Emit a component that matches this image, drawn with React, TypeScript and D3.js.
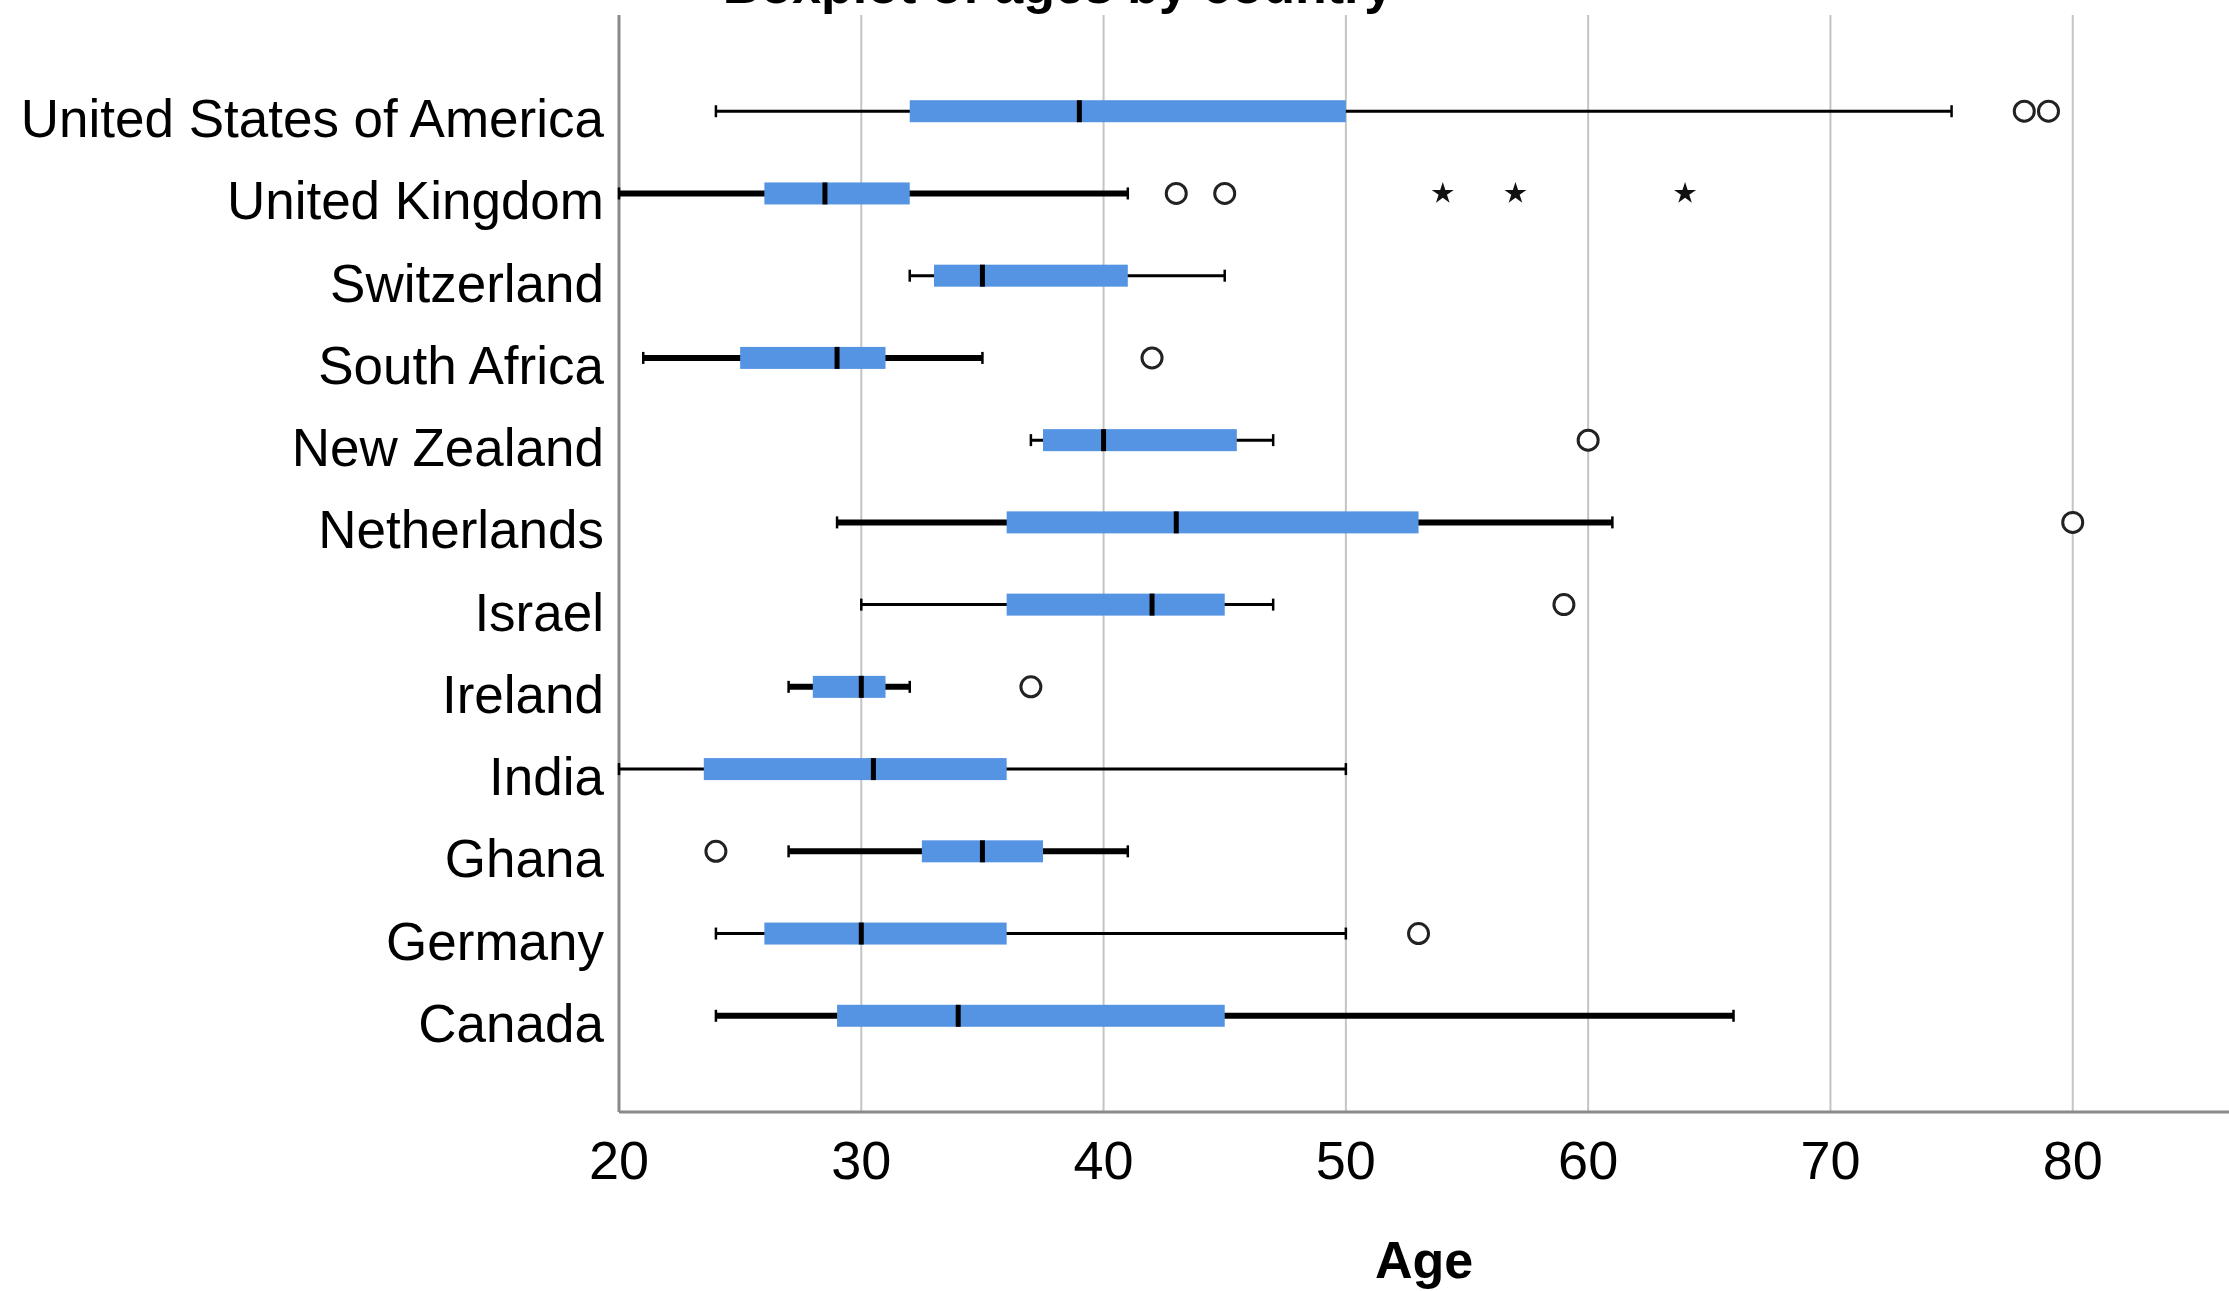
import React from "react";
import * as d3 from "d3";

// values
const countries = [
  "United States of America",
  "United Kingdom",
  "Switzerland",
  "South Africa",
  "New Zealand",
  "Netherlands",
  "Israel",
  "Ireland",
  "India",
  "Ghana",
  "Germany",
  "Canada",
];
const whiskerLow = [24, 20, 32, 21, 37, 29, 30, 27, 20, 27, 24, 24];
const q1 = [32, 26, 33, 25, 37.5, 36, 36, 28, 23.5, 32.5, 26, 29];
const median = [39, 28.5, 35, 29, 40, 43, 42, 30, 30.5, 35, 30, 34];
const q3 = [50, 32, 41, 31, 45.5, 53, 45, 31, 36, 37.5, 36, 45];
const whiskerHigh = [75, 41, 45, 35, 47, 61, 47, 32, 50, 41, 50, 66];
const outliers = [[78, 79], [43, 45], [], [42], [60], [80], [59], [37], [], [24], [53], []];
const extremes = [[], [54, 57, 64], [], [], [], [], [], [], [], [], [], []];
const xTicks = [20, 30, 40, 50, 60, 70, 80];

const W = 2229;
const H = 1291;
const font = "'Liberation Sans', Arial, sans-serif";

const App = () => {
  const left = 619;
  const top = 15;
  const bottom = 1112;

  const x = d3.scaleLinear().domain([20, 86.45]).range([left, W]);
  const y = d3.scalePoint().domain(countries).range([top, bottom]).padding(1.17);

  const star = d3.symbol().type(d3.symbolStar).size(150)();
  const boxH = 22;
  const capH = 12;

  return (
    <svg width={W} height={H} style={{ position: "absolute", left: 0, top: 0, background: "#fff" }}>
      {/* title, clipped at the top like in the export */}
      <text x={1058} y={3} textAnchor="middle" fontFamily={font} fontWeight="bold" fontSize={52}>
        Boxplot of ages by country
      </text>

      {/* gridlines */}
      {xTicks.slice(1).map((t) => (
        <line key={t} x1={x(t)} x2={x(t)} y1={top} y2={bottom} stroke="#c4c4c4" strokeWidth={2} />
      ))}

      {/* axes */}
      <line x1={left} x2={left} y1={top} y2={bottom} stroke="#8a8a8a" strokeWidth={3} />
      <line x1={left} x2={W} y1={bottom} y2={bottom} stroke="#8a8a8a" strokeWidth={3} />

      {xTicks.map((t) => (
        <text key={t} x={x(t)} y={1179} textAnchor="middle" fontFamily={font} fontSize={54}>
          {t}
        </text>
      ))}
      <text x={(left + W) / 2} y={1278} textAnchor="middle" fontFamily={font} fontWeight="bold" fontSize={52}>
        Age
      </text>

      {countries.map((c, i) => {
        const cy = y(c) as number;
        const sw = i % 2 === 1 ? 6 : 3;
        return (
          <g key={c}>
            <text x={604} y={cy + 26} textAnchor="end" fontFamily={font} fontSize={53}>
              {c}
            </text>
            <line x1={x(whiskerLow[i])} x2={x(whiskerHigh[i])} y1={cy} y2={cy} stroke="#000" strokeWidth={sw} />
            <line x1={x(whiskerLow[i])} x2={x(whiskerLow[i])} y1={cy - capH / 2} y2={cy + capH / 2} stroke="#000" strokeWidth={2.5} />
            <line x1={x(whiskerHigh[i])} x2={x(whiskerHigh[i])} y1={cy - capH / 2} y2={cy + capH / 2} stroke="#000" strokeWidth={2.5} />
            <rect x={x(q1[i])} y={cy - boxH / 2} width={x(q3[i]) - x(q1[i])} height={boxH} fill="#5594e2" />
            <line x1={x(median[i])} x2={x(median[i])} y1={cy - boxH / 2} y2={cy + boxH / 2} stroke="#000" strokeWidth={5} />
            {outliers[i].map((v, k) => (
              <circle key={k} cx={x(v)} cy={cy} r={10} fill="#fff" stroke="#222" strokeWidth={3} />
            ))}
            {extremes[i].map((v, k) => (
              <path key={k} d={star as string} transform={`translate(${x(v)},${cy})`} fill="#111" />
            ))}
          </g>
        );
      })}
    </svg>
  );
};

export default App;
